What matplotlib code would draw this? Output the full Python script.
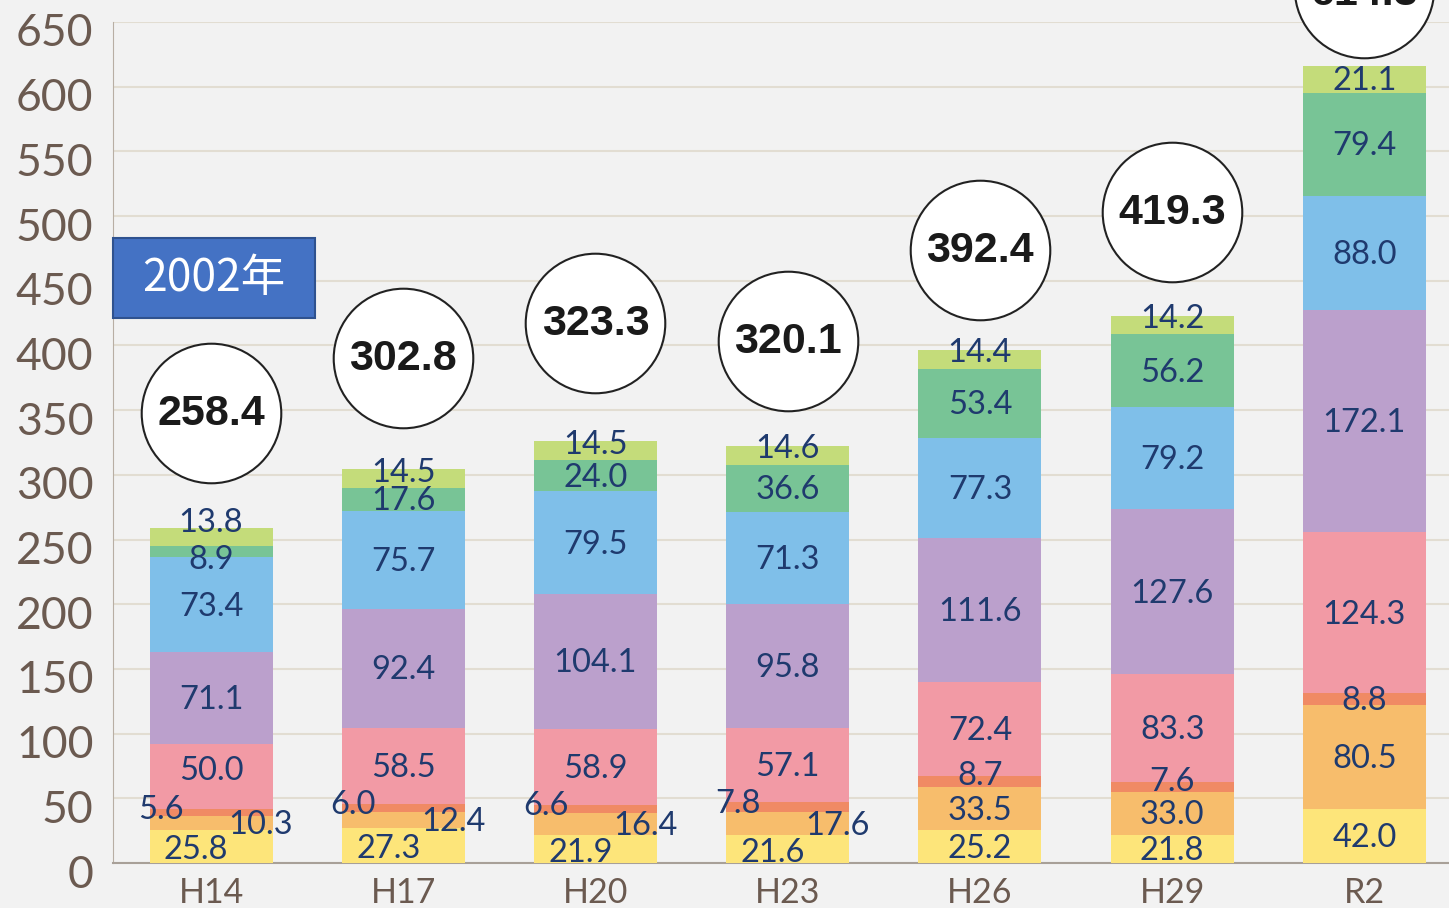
import matplotlib.pyplot as plt
from matplotlib.patches import Rectangle
from matplotlib.transforms import ScaledTranslation

years = ['H14', 'H17', 'H20', 'H23', 'H26', 'H29', 'R2']
yellow = [25.8, 27.3, 21.9, 21.6, 25.2, 21.8, 42.0]
orange = [10.3, 12.4, 16.4, 17.6, 33.5, 33.0, 80.5]
salmon = [5.6, 6.0, 6.6, 7.8, 8.7, 7.6, 8.8]
pink = [50.0, 58.5, 58.9, 57.1, 72.4, 83.3, 124.3]
purple = [71.1, 92.4, 104.1, 95.8, 111.6, 127.6, 172.1]
blue = [73.4, 75.7, 79.5, 71.3, 77.3, 79.2, 88.0]
green = [8.9, 17.6, 24.0, 36.6, 53.4, 56.2, 79.4]
lgreen = [13.8, 14.5, 14.5, 14.6, 14.4, 14.2, 21.1]
totals = ['258.4', '302.8', '323.3', '320.1', '392.4', '419.3', '614.3']
yticks = list(range(0, 651, 50))

series = [yellow, orange, salmon, pink, purple, blue, green, lgreen]
colors = ['#fde57a', '#f7bd6c', '#f08a64', '#f29aa5',
          '#bba0cc', '#7fbfe9', '#78c496', '#c4dc7a']

# label nudges in pixels: (series index, bar index) -> (dx, dy)
nudge = {}
for i in range(4):
    nudge[(0, i)] = (-15, -2)
    nudge[(1, i)] = (50, 0)
    nudge[(2, i)] = (-50, 5)
for i in (4, 5):
    nudge[(2, i)] = (0, 7)
for i in range(6):
    nudge[(7, i)] = (0, 8)
nudge[(7, 0)] = (0, 16)
nudge[(6, 0)] = (0, -6)
nudge[(3, 0)] = (0, 8)

# bubble heights (layout only)
bubble_y = [347.8, 390.3, 417.3, 403.4, 473.7, 503.1, 676.2]

bg = '#f2f2f2'
fig = plt.figure(figsize=(14.49, 9.08), dpi=100, facecolor=bg)
ax = fig.add_axes([113 / 1449, 1 - 863 / 908, 1 - 113 / 1449, (863 - 22) / 908])
ax.set_facecolor(bg)

x = list(range(len(years)))
bottom = [0.0] * len(years)
for si, (vals, col) in enumerate(zip(series, colors)):
    ax.bar(x, vals, 0.64, bottom=bottom, color=col, zorder=3)
    for bi, v in enumerate(vals):
        dx, dy = nudge.get((si, bi), (0, 0))
        ax.annotate(f'{v:.1f}', (bi, bottom[bi] + v / 2), xytext=(dx, dy - 2),
                    textcoords='offset pixels', ha='center', va='center',
                    fontsize=23.5, family='Lato', color='#1f3a6e', zorder=4,
                    annotation_clip=False)
    bottom = [b + v for b, v in zip(bottom, vals)]

ax.scatter(x, bubble_y, s=10100, facecolor='white', edgecolor='#222222',
           linewidth=1.5, zorder=5, clip_on=False)
for xi, yi, t in zip(x, bubble_y, totals):
    ax.annotate(t, (xi, yi), xytext=(0, -6 if xi == 6 else -1),
                textcoords='offset pixels', ha='center', va='center',
                fontsize=31, family='Liberation Sans', fontweight='bold',
                color='#1a1a1a', zorder=6, annotation_clip=False)

ax.set_xlim(-0.51, 6.44)
ax.set_ylim(0, 650)
ax.set_yticks(yticks)
ax.set_xticks(x)
ax.set_xticklabels(years)
ax.yaxis.grid(True, color='#e2ddd2', linewidth=1.5, zorder=0)
ax.tick_params(axis='both', length=0, colors='#6b5a50')
ax.tick_params(axis='y', labelsize=32, pad=14)
ax.tick_params(axis='x', labelsize=24.5, pad=10)
for lab in ax.get_yticklabels() + ax.get_xticklabels():
    lab.set_family('Lato')
for lab in ax.get_yticklabels():
    lab.set_transform(lab.get_transform() + ScaledTranslation(0, -0.08, fig.dpi_scale_trans))
for s in ['top', 'right']:
    ax.spines[s].set_visible(False)
ax.spines['left'].set_color('#b8aea4')
ax.spines['bottom'].set_color('#a8a098')
ax.spines['bottom'].set_linewidth(1.5)

fig.patches.append(Rectangle((113 / 1449, 1 - 318 / 908), 202 / 1449, 80 / 908,
                             transform=fig.transFigure, facecolor='#4472c4',
                             edgecolor='#2f528f', linewidth=1.5, zorder=10))
fig.text(214 / 1449, 1 - 278 / 908, '2002年', ha='center', va='center',
         fontsize=32, color='white', family=['Noto Sans CJK JP', 'DejaVu Sans'],
         zorder=11)

fig.savefig('out.png', dpi=100, facecolor=bg)
